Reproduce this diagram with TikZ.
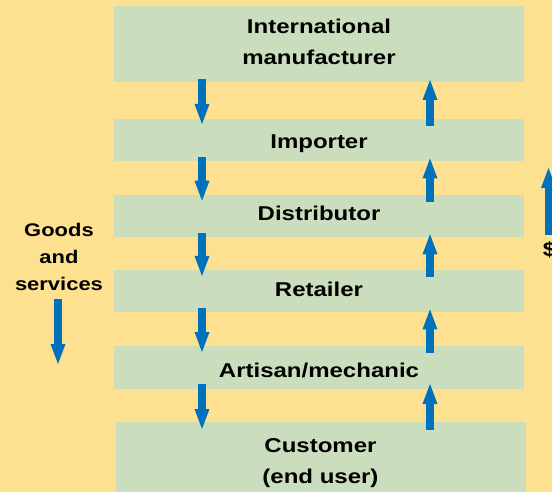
\documentclass[tikz,border=0pt]{standalone}
\usepackage{fontspec}
\setmainfont{Liberation Sans}[FakeStretch=1.2]
\usetikzlibrary{arrows.meta}

\definecolor{sand}{RGB}{254,224,145}
\definecolor{sage}{RGB}{202,222,190}
\definecolor{flowblue}{RGB}{0,114,188}

\begin{document}
\begin{tikzpicture}[x=1pt,y=-1pt,
  stage/.style={fill=sage, draw=none, minimum width=410pt, minimum height=42.5pt,
    inner sep=0pt, outer sep=0pt},
  stagetext/.style={font=\bfseries\fontsize{20}{31}\selectfont, align=center,
    inner sep=0pt, anchor=base},
  sidetext/.style={font=\bfseries\fontsize{18.3}{26.7}\selectfont, align=center,
    inner sep=0pt, anchor=base},
  flow/.style={draw=flowblue, line width=8pt,
    -{Triangle[width=15pt,length=20pt,line width=0pt]}}
]
% page background
\fill[sand] (0,0) rectangle (552,492);
\useasboundingbox (0,0) rectangle (552,492);

% the chain of stages
\node[stage, minimum height=76pt] (b1) at (319,44) {};
\node[stage] (b2) at (319,140.25) {};
\node[stage] (b3) at (319,216) {};
\node[stage] (b4) at (319,291.2) {};
\node[stage] (b5) at (319,367.25) {};
\node[stage, minimum height=80pt] (b6) at (321,462) {};

% stage names (base anchor sits on the last line's baseline)
\node[stagetext] (t1) at (319,65) {International\\manufacturer};
\node[stagetext] (t2) at (319,149) {Importer};
\node[stagetext] (t3) at (319,220) {Distributor};
\node[stagetext] (t4) at (319,296) {Retailer};
\node[stagetext] (t5) at (319,377) {Artisan/mechanic};
\node[stagetext] (t6) at (320.5,483) {Customer\\(end user)};

% columns of the flow arrows
\coordinate (dn) at (202,0);
\coordinate (up) at (430,0);

% goods flow downwards
\draw[flow] ([yshift=3pt]b1.south -| dn) -- ([yshift=-5pt]b2.north -| dn);
\draw[flow] ([yshift=4pt]b2.south -| dn) -- ([yshift=-6pt]b3.north -| dn);
\draw[flow] ([yshift=4pt]b3.south -| dn) -- ([yshift=-6pt]b4.north -| dn);
\draw[flow] ([yshift=4pt]b4.south -| dn) -- ([yshift=-6pt]b5.north -| dn);
\draw[flow] ([yshift=4.5pt]b5.south -| dn) -- ([yshift=-7pt]b6.north -| dn);

% money flows upwards
\draw[flow] ([yshift=-7pt]b2.north -| up) -- ([yshift=2pt]b1.south -| up);
\draw[flow] ([yshift=-7pt]b3.north -| up) -- ([yshift=3pt]b2.south -| up);
\draw[flow] ([yshift=-7pt]b4.north -| up) -- ([yshift=3pt]b3.south -| up);
\draw[flow] ([yshift=-7pt]b5.north -| up) -- ([yshift=3pt]b4.south -| up);
\draw[flow] ([yshift=-8pt]b6.north -| up) -- ([yshift=4.5pt]b5.south -| up);

% side legends
\node[sidetext] (goods) at (59,290) {Goods\\and\\services};
\coordinate (goodsend) at (58,364);
\draw[flow] ([yshift=-9pt]goods.south -| goodsend) -- (goodsend);

\node[stagetext] (money) at (549.5,256) {\$};
\coordinate (moneyend) at (548.5,168);
\draw[flow] ([yshift=6pt]money.north -| moneyend) -- (moneyend);
\end{tikzpicture}
\end{document}
